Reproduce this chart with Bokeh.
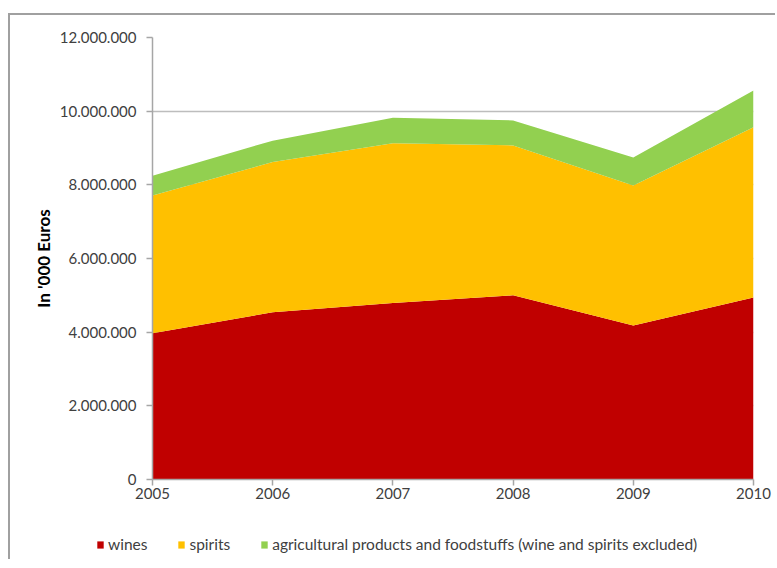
from bokeh.plotting import figure
from bokeh.layouts import column
from bokeh.models import (Range1d, FixedTicker, CustomJSTickFormatter, Legend, LegendItem,
                          ColumnDataSource)
from bokeh.embed import file_html
from bokeh.resources import INLINE

years = [2005, 2006, 2007, 2008, 2009, 2010]
wines = [3970000, 4540000, 4790000, 5000000, 4180000, 4940000]
spirits = [3740000, 4080000, 4340000, 4070000, 3800000, 4620000]
agri = [540000, 580000, 690000, 680000, 760000, 1000000]
series_names = ["wines", "spirits", "agricultural products and foodstuffs (wine and spirits excluded)"]
colors = ["#C00000", "#FFC000", "#92D050"]
y_ticks = [0, 2000000, 4000000, 6000000, 8000000, 10000000, 12000000]

src = ColumnDataSource(dict(x=years, wines=wines, spirits=spirits, agri=agri))

FONT = "Lato"

p = figure(width=765, height=494, output_backend="svg", toolbar_location=None,
           x_range=Range1d(2005, 2010), y_range=Range1d(0, 12000000),
           min_border_left=142, min_border_right=22, min_border_top=22, min_border_bottom=30)
p.outline_line_color = None

rs = p.varea_stack(stackers=["wines", "spirits", "agri"], x="x", color=colors, source=src)

p.xgrid.grid_line_color = None
p.ygrid.grid_line_color = "#bdbdbd"
p.ygrid.grid_line_width = 1.5
p.ygrid.level = "underlay"

p.yaxis.ticker = FixedTicker(ticks=y_ticks)
p.yaxis.formatter = CustomJSTickFormatter(code="""
return Math.round(tick).toString().replace(/\\B(?=(\\d{3})+(?!\\d))/g, ".");
""")
p.xaxis.ticker = FixedTicker(ticks=years)
for ax in (p.xaxis, p.yaxis):
    ax.axis_line_color = "#a6a6a6"
    ax.axis_line_width = 1.5
    ax.major_tick_line_color = "#a6a6a6"
    ax.major_tick_line_width = 1.5
    ax.major_tick_in = 0
    ax.major_tick_out = 6
    ax.minor_tick_line_color = None
    ax.major_label_text_font = FONT
    ax.major_label_text_font_size = "15px"
    ax.major_label_text_color = "#404040"
p.yaxis.major_label_standoff = 10
p.xaxis.major_label_standoff = 2
p.yaxis.axis_label = "In '000 Euros"
p.yaxis.axis_label_text_font = FONT
p.yaxis.axis_label_text_font_size = "17px"
p.yaxis.axis_label_text_font_style = "bold"
p.yaxis.axis_label_text_color = "#000000"
p.yaxis.axis_label_standoff = 3

# legend strip below the chart (its areas lie outside its visible range)
lg = figure(width=765, height=50, output_backend="svg", toolbar_location=None,
            x_range=Range1d(2005, 2010), y_range=Range1d(-2, -1),
            x_axis_location=None, y_axis_location=None,
            min_border=0, min_border_left=0, min_border_right=0, min_border_top=0, min_border_bottom=0)
lg.frame_align = False
lg.outline_line_color = None
lg.grid.visible = False
lrs = lg.varea_stack(stackers=["wines", "spirits", "agri"], x="x", color=colors, source=src)
items = [LegendItem(label=n, renderers=[r]) for n, r in zip(series_names, lrs)]
legend = Legend(items=items, orientation="horizontal", location=(86, 6),
                label_text_font=FONT, label_text_font_size="15.5px", label_text_color="#404040",
                glyph_width=8, glyph_height=9, label_standoff=4, spacing=30,
                padding=0, margin=0, border_line_color=None, background_fill_alpha=0,
                label_height=16)
lg.add_layout(legend, "center")

layout = column(p, lg, spacing=0)
layout.styles = {"margin-left": "8px", "margin-top": "13px",
                 "border-top": "2px solid #a0a0a0", "border-left": "2px solid #a0a0a0"}

open("out.html", "w").write(file_html(layout, INLINE))
